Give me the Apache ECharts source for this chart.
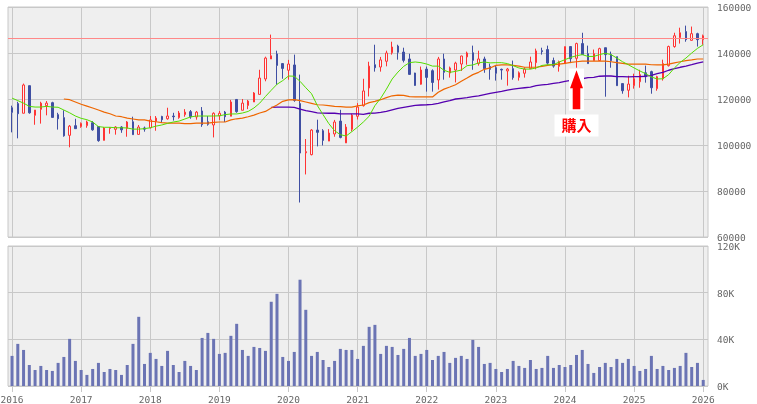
<!DOCTYPE html>
<html>
<head>
<meta charset="utf-8">
<style>html,body{margin:0;padding:0;background:#fff}#chart{width:757px;height:404px}</style>
<script src="https://cdn.jsdelivr.net/npm/echarts@6/dist/echarts.min.js"></script>
</head>
<body>
<div id="chart"></div>
<script>
// monthly values, Jan 2016 - Jan 2026, one row per year
const opens = [
	116200,118000,113800,125800,112900,115500,117100,118400,113200,111900,104200,108400,
	108000,108400,109700,108000,102000,107200,106800,107800,107200,110100,104600,107400,
	107500,110300,112400,111400,112600,111900,113200,114500,112200,114800,110100,108700,
	112700,114300,112500,119800,115100,117200,118700,122000,128700,137400,139600,135400,
	132500,134800,118000,96600,95800,106500,106200,101700,104800,110400,100900,106800,
	112500,117100,124800,134900,133900,136400,140100,143000,140400,137400,131300,126400,
	133000,132300,128300,137400,131300,132600,135200,138300,140100,135400,137400,134100,
	133600,132900,132200,133200,129400,131200,133200,135800,141000,141500,136700,134200,
	135400,142800,137700,144100,139700,136700,136700,142300,139300,138400,126700,123800,
	125800,127500,131400,131900,124500,128800,134500,142800,146700,149300,145500,148400,
	145800];
const closes = [
	114200,113600,126100,114000,115200,118200,118200,112000,111400,104000,108200,107100,
	109400,110000,106600,101900,107400,107500,107800,106600,110000,104500,107800,106900,
	110900,111700,111000,112600,112300,113900,114300,112300,114300,108800,109000,113800,
	113800,112300,118700,114500,118200,119100,122600,129100,137800,138800,134600,133300,
	135200,119400,96500,97100,106500,105500,102000,105200,110000,103300,107800,113000,
	116500,123500,134300,133600,137000,140000,142600,140300,136800,130700,125900,132600,
	129400,127200,137400,131600,133500,135600,138700,140000,136800,137400,133200,132900,
	131200,132600,133000,129300,131400,133000,136100,140900,140600,135600,134300,136200,
	142800,137500,144100,139300,135400,139700,141900,139300,136700,125800,123600,126500,
	128800,130600,129700,124900,129700,135400,142800,147500,148800,145800,148400,145800,
	147500];
const lows = [
	105500,102900,113800,113600,108800,109300,112900,112000,106700,103600,99000,107100,
	107500,107500,106200,101400,102000,104900,104500,105300,103600,104500,104600,105800,
	107200,106200,109800,111000,110600,111400,112300,111400,111000,107900,108400,103300,
	110900,110000,112500,114000,115100,115600,118700,122000,127700,137400,126200,128800,
	128400,118800,75000,87200,95500,99400,99800,101700,103600,102900,100900,105900,
	111100,116700,121100,131900,131900,134200,139300,137100,135900,130600,125800,126200,
	123200,123200,124100,128400,129300,127200,132200,134900,132700,134500,131400,128400,
	128000,128400,125800,128400,128000,129300,133000,132900,139300,134900,133600,131900,
	135400,135600,133600,139300,135400,136700,136700,121000,133600,125800,122300,120700,
	124500,124900,127100,122300,123600,128000,134100,142300,144100,144900,145400,142800,
	143600];
const highs = [
	117100,118800,126700,125800,115200,118800,119100,118800,114000,115100,108700,111400,
	109800,110600,110400,108200,107800,107800,108200,108200,110400,112300,108700,108000,
	112600,112600,112700,116200,114000,114800,115600,115200,114800,116500,112600,114200,
	114800,114800,119600,120000,120000,119600,123000,132700,138400,148000,141000,135600,
	137000,139300,130600,102600,106900,111000,106900,106900,110900,115300,109100,113600,
	118200,128800,136200,143600,138300,141000,144900,143600,142300,139700,131400,134100,
	134100,132900,138300,139700,134100,136200,138800,140600,143200,141000,138400,135400,
	134500,133200,133500,136700,132000,133800,138400,141900,142300,143200,138000,136700,
	142800,142800,144500,148800,143200,141500,142300,142300,140600,138400,126700,130100,
	131000,132700,134500,132300,130100,137100,143200,148800,151000,151900,151500,148800,
	148000];
const volumes = [
	25800,36100,30900,18000,13700,17200,13700,12900,19800,24900,40400,21500,
	13700,9500,14600,19800,12000,14600,13700,9500,18000,36100,59300,18900,
	28400,23200,17200,30100,18000,12000,21500,17200,13700,41200,45500,40400,
	27500,28400,43000,53300,30900,25800,33500,32600,30100,72200,79000,24900,
	21500,29200,91100,65300,25800,29200,22300,16300,21500,31800,30900,30900,
	23200,34400,50700,52400,27500,34400,33500,26600,31800,41200,25800,27500,
	30900,22300,25800,29200,19800,24100,25800,23200,39500,33500,18900,19800,
	14600,12000,14600,21500,17200,15500,22300,14600,15500,25800,15500,18000,
	16300,18000,26600,30900,18900,11200,16300,19800,16300,23200,19800,23200,
	17200,12900,14600,25800,14600,17200,13700,15500,17200,28400,16300,19800,
	5200];
const maShort = [
	120400,119300,118200,116800,116500,116500,116800,116500,116400,115200,114000,112600,
	111600,111000,110000,108000,107700,107700,107500,107500,107400,106900,106900,107100,
	107500,108200,108700,109400,110000,110400,111300,112200,112600,112600,112600,112600,
	112700,113200,113500,113500,113900,114600,116100,118200,121100,123800,126400,128000,
	130000,129900,127700,124900,122300,117200,113200,109300,106200,104500,103900,105800,
	107800,110000,112500,117100,120300,124300,128700,131700,134200,135800,136100,135800,
	135200,134300,134300,132500,131600,132000,132600,134500,134800,135700,136100,135700,
	135800,135800,135400,134500,133500,133000,133000,133500,134600,134900,134900,136100,
	137100,138100,138800,139300,138500,138500,139300,139900,139300,137800,136200,134900,
	133500,132200,131000,129600,128700,128800,130600,133500,135900,137800,140000,142000,
	143600];
const maMid = [
	null,null,null,null,null,null,null,null,null,120000,119700,118700,
	117700,116900,116100,115200,114300,113600,112600,112300,111700,111300,110900,110900,
	110400,110100,109700,109500,109500,109500,109300,109300,109500,109500,109500,109800,
	110000,110000,110900,111400,111700,112300,113000,113900,114600,116100,117400,119000,
	119600,119700,119300,118700,118100,117500,117400,117100,116800,116700,116500,116500,
	117000,117400,118400,119000,119700,120600,121400,121700,121600,121000,120900,120900,
	120900,120900,122900,124300,125200,126200,127700,129100,130600,131600,132900,133500,
	134600,134800,134800,134600,134300,133800,133800,133800,134200,134600,134900,135200,
	135500,135900,136200,136500,136500,136500,136500,136500,136200,135800,135500,135200,
	135200,135200,135200,134900,134800,134800,135200,135700,136200,136700,137000,137400,
	137400];
const maLong = [
	null,null,null,null,null,null,null,null,null,null,null,null,
	null,null,null,null,null,null,null,null,null,null,null,null,
	null,null,null,null,null,null,null,null,null,null,null,null,
	null,null,null,null,null,null,null,null,null,116400,116500,116500,
	116500,116400,115600,114900,114500,114000,113900,113800,113800,113500,113500,113500,
	113500,113300,113800,113900,114200,114600,115300,115900,116400,116800,117200,117400,
	117500,117700,118100,118700,119300,120000,120300,120600,121000,121400,121900,122400,
	122900,123300,123900,124300,124600,124900,125200,125800,126100,126400,126800,127100,
	127700,128100,128500,128800,129300,129400,129900,130000,130000,129700,129700,129600,
	129700,129700,129900,130300,131000,131600,132500,133200,133800,134300,134900,135600,
	136100];
const refPrice = 146500;
const yearMonths = [0,12,24,36,48,60,72,84,96,108,120];
const yearLabels = ['2016','2017','2018','2019','2020','2021','2022','2023','2024','2025','2026'];
const priceTicks = [60000,80000,100000,120000,140000,160000];
const volumeTicks = [0,40000,80000,120000];
const buyMonth = 98;
const buyLabel = '購入';

const GRID_COLOR = '#c8c8c8';
const TEXT_COLOR = '#666';
const FONT = '"DejaVu Sans Mono", monospace';

const candleData = opens.map((o, i) => [i, o, closes[i], lows[i], highs[i]]);
const withIndex = (arr) => arr.map((v, i) => [i, v]);

function lineSeries (data, color, width, z) {
	return {
		type: 'line',
		data: withIndex(data),
		showSymbol: false,
		connectNulls: false,
		silent: true,
		animation: false,
		z: z,
		lineStyle: { color: color, width: width }
	};
};

function xAxisFor (gridIndex, showLabels) {
	return {
		type: 'value',
		gridIndex: gridIndex,
		min: -0.7,
		max: 120.83,
		axisLine: { show: false },
		axisTick: { show: showLabels, customValues: yearMonths, length: 6, lineStyle: { color: GRID_COLOR } },
		axisLabel: {
			show: showLabels,
			customValues: yearMonths,
			color: TEXT_COLOR,
			fontFamily: FONT,
			fontSize: 9.5,
			margin: 10,
			formatter: (v) => yearLabels[yearMonths.indexOf(v)]
		},
		splitLine: { show: true, lineStyle: { color: GRID_COLOR, width: 1 } }
	};
};

function yAxisFor (gridIndex, min, max, ticks, formatter) {
	return {
		type: 'value',
		gridIndex: gridIndex,
		position: 'right',
		min: min,
		max: max,
		axisLine: { show: false },
		axisTick: { show: true, customValues: ticks, length: 6, lineStyle: { color: GRID_COLOR } },
		axisLabel: {
			customValues: ticks,
			color: TEXT_COLOR,
			fontFamily: FONT,
			fontSize: 9.5,
			margin: 9,
			verticalAlign: 'top',
			lineHeight: 3,
			formatter: formatter
		},
		splitLine: { show: true, lineStyle: { color: GRID_COLOR, width: 1 } }
	};
};

const chart = echarts.init(document.getElementById('chart'), null, { renderer: 'canvas' });
chart.setOption({
	animation: false,
	backgroundColor: '#fff',
	grid: [
		{ left: 8, top: 7, width: 700, height: 230, outerBoundsMode: 'none', show: true, backgroundColor: '#efefef', borderColor: GRID_COLOR, borderWidth: 1 },
		{ left: 8, top: 246, width: 700, height: 140, outerBoundsMode: 'none', show: true, backgroundColor: '#efefef', borderColor: GRID_COLOR, borderWidth: 1 }
	],
	xAxis: [xAxisFor(0, false), xAxisFor(1, true)],
	yAxis: [
		yAxisFor(0, 60000, 160000, priceTicks, (v) => String(v)),
		yAxisFor(1, 0, 120000, volumeTicks, (v) => (v / 1000) + 'K')
	],
	series: [
		{
			type: 'candlestick',
			data: candleData,
			encode: { x: 0, y: [1, 2, 3, 4] },
			barWidth: 2,
			silent: true,
			z: 3,
			itemStyle: {
				color: '#f4f4f4',
				color0: '#3f4fa3',
				borderColor: '#ff3333',
				borderColor0: '#3f4fa3',
				borderWidth: 1
			},
			markLine: {
				silent: true,
				symbol: 'none',
				animation: false,
				label: { show: false },
				lineStyle: { color: '#ff8888', width: 1, type: 'solid' },
				data: [{ yAxis: refPrice }]
			}
		},
		lineSeries(maLong, '#5500b0', 1.3, 4),
		lineSeries(maMid, '#ee6600', 1.2, 5),
		lineSeries(maShort, '#55dd00', 1, 6),
		{
			type: 'bar',
			xAxisIndex: 1,
			yAxisIndex: 1,
			data: withIndex(volumes),
			barWidth: 3,
			silent: true,
			itemStyle: { color: '#6b74b4' }
		},
		{
			// purchase marker drawn over the lines
			type: 'scatter',
			silent: true,
			z: 10,
			data: [
				{ value: [buyMonth, 124100], symbol: 'rect', symbolSize: [15, 42], itemStyle: { color: '#fff', opacity: 1 } },
				{
					value: [buyMonth, 124000],
					symbol: 'path://M6 0 L12 18 L9.5 18 L9.5 39 L2.5 39 L2.5 18 L0 18 Z',
					symbolSize: [13, 39],
					itemStyle: { color: '#ff0000', opacity: 1 }
				},
				{
					value: [buyMonth, 108500],
					symbol: 'rect',
					symbolSize: [44, 22],
					itemStyle: { color: '#fff', opacity: 1 },
					label: {
						show: true,
						position: 'inside',
						formatter: buyLabel,
						color: '#ff0000',
						fontFamily: '"Noto Sans CJK JP"',
						fontWeight: 'bold',
						fontSize: 15
					}
				}
			]
		}
	]
});
</script>
</body>
</html>
